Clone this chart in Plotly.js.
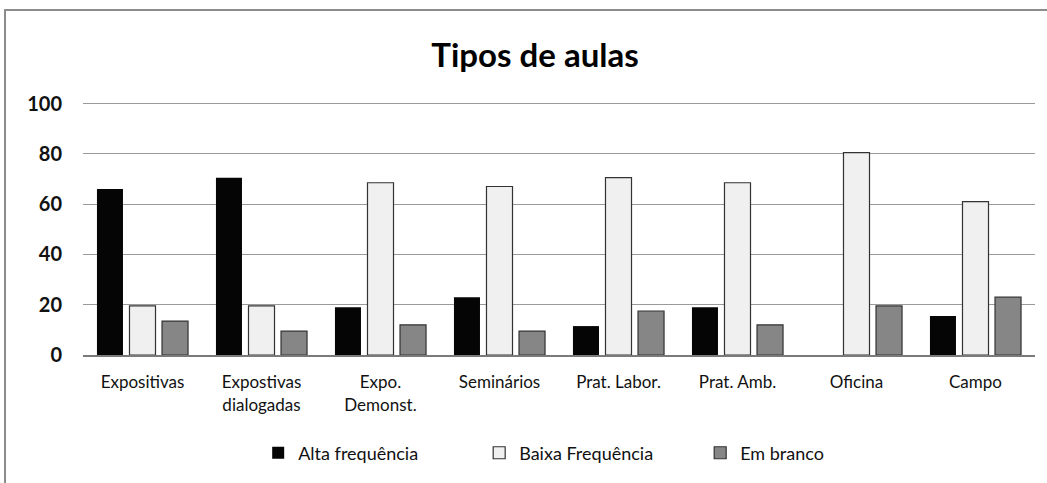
<!DOCTYPE html>
<html>
<head>
<meta charset="utf-8">
<script src="https://cdn.plot.ly/plotly-3.0.1.min.js"></script>
<style>
  body { margin: 0; background: #fff; }
  #frame { position: absolute; left: 4px; top: 9px; width: 1100px; height: 500px;
           border-top: 2px solid #8c8c8c; border-left: 2px solid #8c8c8c; }
  #chart { position: absolute; left: 0; top: 0; width: 1047px; height: 483px; }
</style>
</head>
<body>
<div id="frame"></div>
<div id="chart"></div>
<script>
const divPlot = document.getElementById('chart');

// categorias e valores
const categorias = [
  'Expositivas',
  'Expostivas<br>dialogadas',
  'Expo.<br>Demonst.',
  'Seminários',
  'Prat. Labor.',
  'Prat. Amb.',
  'Oficina',
  'Campo',
];
const altaFrequencia = [66, 70.5, 19, 23, 11.5, 19, 0, 15.5];
const baixaFrequencia = [19.5, 19.5, 68.5, 67, 70.5, 68.5, 80.5, 61];
const emBranco = [13.5, 9.5, 12, 9.5, 17.5, 12, 19.5, 23];

const fonte = 'Lato, "Open Sans", sans-serif';

const alta = {
  x: categorias,
  y: altaFrequencia,
  name: 'Alta frequência',
  type: 'bar',
  marker: { color: '#050505', line: { width: 0 } },
};

const baixa = {
  x: categorias,
  y: baixaFrequencia,
  name: 'Baixa Frequência',
  type: 'bar',
  marker: { color: '#f0f0f0', line: { color: '#333', width: 1.2 } },
};

const branco = {
  x: categorias,
  y: emBranco,
  name: 'Em branco',
  type: 'bar',
  marker: { color: '#868686', line: { color: '#333', width: 1.2 } },
};

const data = [alta, baixa, branco];

const layout = {
  width: 1047,
  height: 483,
  title: {
    text: 'Tipos de aulas',
    font: { family: fonte, size: 33, color: '#000', weight: 'bold' },
    xref: 'container',
    x: 0.511,
    y: 0.886,
    yanchor: 'middle',
  },
  paper_bgcolor: 'rgba(0,0,0,0)',
  plot_bgcolor: 'rgba(0,0,0,0)',
  margin: { l: 83, r: 12, t: 101, b: 128 },
  barmode: 'group',
  bargap: 0.18,
  bargroupgap: 0.2,

  xaxis: {
    showgrid: false,
    showline: true,
    linecolor: '#7a7a7a',
    linewidth: 2,
    ticks: '',
    ticklabelstandoff: 11,
    tickfont: { family: fonte, size: 17, color: '#111' },
  },

  yaxis: {
    range: [0, 101],
    tickvals: [0, 20, 40, 60, 80, 100],
    showgrid: true,
    gridcolor: '#9a9a9a',
    gridwidth: 1,
    zeroline: false,
    showline: false,
    ticks: '',
    ticklabelstandoff: 20,
    tickfont: { family: fonte, size: 20, color: '#111', weight: 'bold' },
  },

  showlegend: true,
  legend: {
    orientation: 'h',
    xanchor: 'left',
    yanchor: 'middle',
    x: (258 - 83) / 951,
    y: -0.386,
    font: { family: fonte, size: 18, color: '#111' },
    itemwidth: 30,
    entrywidth: 176,
    entrywidthmode: 'pixels',
  },
};

const config = { displayModeBar: false, staticPlot: true };

Plotly.newPlot(divPlot, data, layout, config);
</script>
</body>
</html>
